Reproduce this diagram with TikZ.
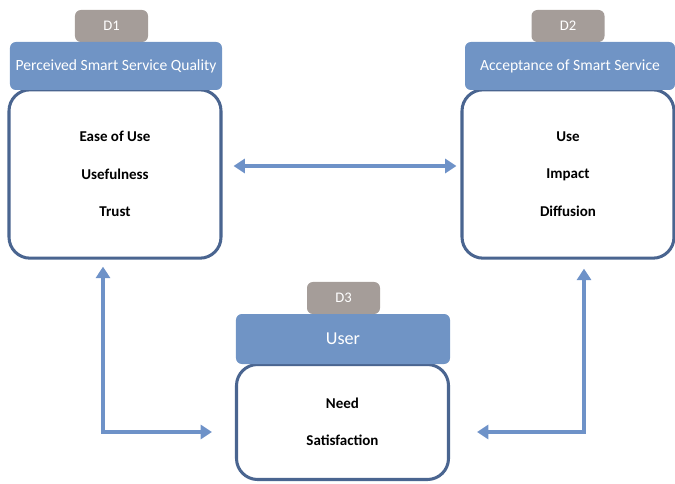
\documentclass[tikz,border=0pt]{standalone}
\usepackage{fontspec}
\setmainfont{Carlito}
\usepackage{tikz}
\usetikzlibrary{arrows.meta,positioning,calc}
\definecolor{headblue}{HTML}{7094C5}
\definecolor{edgeblue}{HTML}{4A6590}
\definecolor{tabgray}{HTML}{A59D99}
\definecolor{arrowblue}{HTML}{6E92C8}
\tikzset{tabbox/.style={fill=tabgray,rounded corners=5pt,minimum width=2.19cm,minimum height=0.96cm,text=white,font=\fontsize{12.5}{14}\selectfont,inner sep=0pt}, headbox/.style={fill=headblue,rounded corners=5pt,minimum width=6.36cm,minimum height=1.44cm,text=white,font=\fontsize{13.3}{15}\selectfont,inner sep=0pt}, bodybox/.style={draw=edgeblue,line width=2.6pt,fill=white,rounded corners=18pt,minimum width=6.36cm,align=center,font=\bfseries\fontsize{12.8}{32}\selectfont,inner sep=0pt}, flow/.style={{Triangle[length=3.4mm,width=4.2mm]}-{Triangle[length=3.4mm,width=4.2mm]},line width=3pt,draw=arrowblue}}
\begin{document}
\begin{tikzpicture}[x=0.03cm,y=-0.03cm]
\useasboundingbox (0,0) rectangle (675,484);
\node[tabbox] (tab1) at (111.5,26) {D1};
\node[bodybox,minimum height=5.05cm] (body1) at (115,174) {Ease of Use\\Usefulness\\Trust};
\node[headbox] (head1) at (116,66) {Perceived Smart Service Quality};
\node[tabbox] (tab2) at (568,26) {D2};
\node[bodybox,minimum height=5.05cm] (body2) at (568,174) {Use\\Impact\\Diffusion};
\node[headbox,minimum width=6.3cm] (head2) at (570,66) {Acceptance of Smart Service};
\node[tabbox] (tab3) at (343.5,298) {D3};
\node[bodybox,minimum height=3.45cm] (body3) at (342.5,422) {Need\\Satisfaction};
\node[headbox,minimum width=6.42cm,minimum height=1.5cm,font=\fontsize{15.5}{17}\selectfont] (head3) at (343,339) {User};
\draw[flow,shorten <=0.33cm,shorten >=0.12cm] ([yshift=0.24cm]body1.east) -- ([yshift=0.24cm]body2.west);
\draw[flow,shorten <=0.21cm,shorten >=0.69cm] ([xshift=-0.36cm]body1.south) |- ([yshift=-0.3cm]body3.west);
\draw[flow,shorten <=0.27cm,shorten >=0.81cm] ([xshift=0.48cm]body2.south) |- ([yshift=-0.3cm]body3.east);
\end{tikzpicture}
\end{document}
